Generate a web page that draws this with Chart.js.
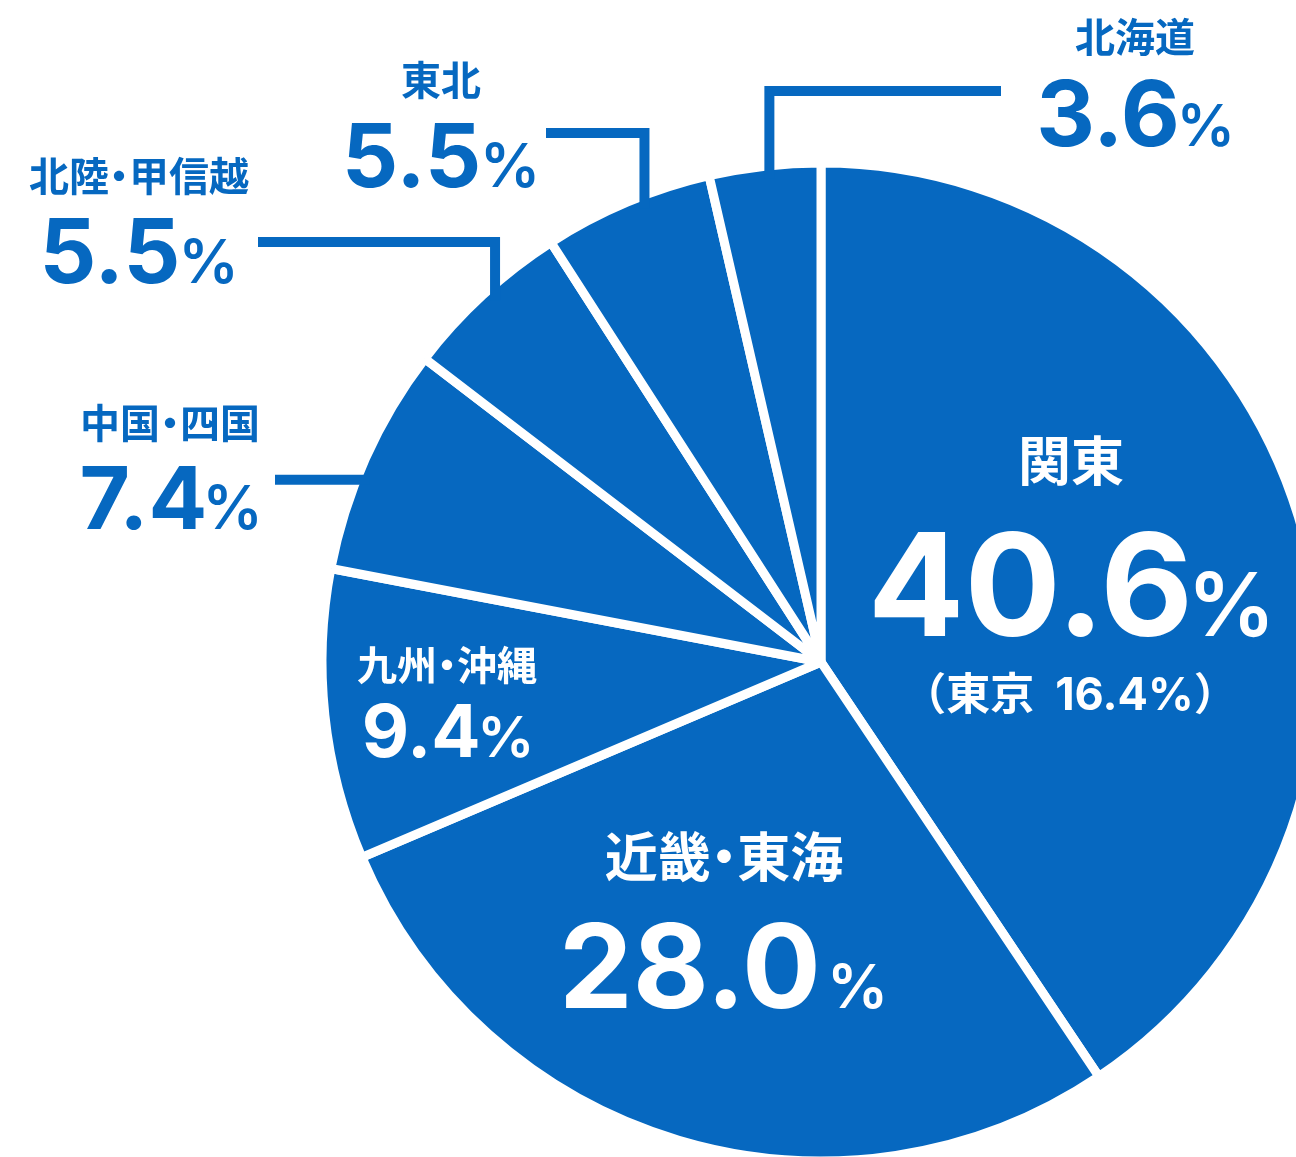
<!DOCTYPE html>
<html lang="ja">
<head>
<meta charset="utf-8">
<script src="https://cdn.jsdelivr.net/npm/chart.js@4.4.1/dist/chart.umd.min.js"></script>
<style>
  html, body { margin: 0; padding: 0; background: #fff; overflow: hidden; }
  #wrap { position: relative; width: 1296px; height: 1157px; overflow: hidden; }
  canvas { position: absolute; left: 0; top: 0; }
</style>
</head>
<body>
<div id="wrap"><canvas id="regionPie" width="1400" height="1200"></canvas></div>
<script>
// share by region (%), clockwise from 12 o'clock
const regions = ['関東', '近畿・東海', '九州・沖縄', '中国・四国', '北陸・甲信越', '東北', '北海道'];
const shares = [40.6, 28.0, 9.4, 7.4, 5.5, 5.5, 3.6];
const tokyoShare = 16.4;

const BLUE = '#0668c0';
const numberFont = 'Inter, "Liberation Sans", Arial, sans-serif';
const numWeight = 700;
const pctWeight = 600;
const cjkFont = '"Noto Sans CJK JP", "Noto Sans CJK SC", sans-serif';

// label placement, offsets from the pie centre
const labelLayout = [
  { dx: 250, nameY: -201, numY: -26, nameSize: 53, numSize: 143, pctSize: 88, sx: 1, gap: 8, inside: true },
  { dx: -97, nameY: 195, numY: 346, nameSize: 53, numSize: 117, pctSize: 61, sx: 1, gap: 16, inside: true },
  { dx: -374, nameY: 3, numY: 95, nameSize: 40, numSize: 73, pctSize: 57, sx: 1, gap: 4, inside: true },
  { dx: -651, nameY: -239, numY: -133, nameSize: 40, numSize: 87, pctSize: 60, sx: 1, gap: 4,
    leader: { f: 0.42, endX: -546 } },
  { dx: -682, nameY: -486, numY: -379, nameSize: 40, numSize: 89, pctSize: 60, sx: 1, gap: 7,
    leader: { f: 0.53, elbowY: -420, endX: -563 } },
  { dx: -380, nameY: -582, numY: -475, nameSize: 40, numSize: 88, pctSize: 60, sx: 1, gap: 7,
    leader: { f: 0.58, elbowY: -529, endX: -275 } },
  { dx: 314, nameY: -625, numY: -516, nameSize: 40, numSize: 91, pctSize: 58, sx: 1, gap: 6,
    leader: { f: 0.53, elbowY: -571, endX: 180 } }
];
const subLayout = { dx: 249, y: 48 };

function drawName(ctx, text, cx, cy, size, color) {
  ctx.font = `bold ${size}px ${cjkFont}`;
  ctx.fillStyle = color;
  ctx.textBaseline = 'middle';
  ctx.textAlign = 'left';
  const parts = text.split('・');
  const dotW = size * 0.5;
  const widths = parts.map(p => ctx.measureText(p).width);
  const total = widths.reduce((a, b) => a + b, 0) + dotW * (parts.length - 1);
  let x = cx - total / 2;
  parts.forEach((p, i) => {
    ctx.fillText(p, x, cy);
    x += widths[i];
    if (i < parts.length - 1) {
      ctx.textAlign = 'center';
      ctx.fillText('・', x + dotW / 2, cy);
      ctx.textAlign = 'left';
      x += dotW;
    }
  });
}

function drawValue(ctx, value, cx, baseY, lay, color) {
  const num = value.toFixed(1);
  ctx.fillStyle = color;
  ctx.textBaseline = 'alphabetic';
  ctx.textAlign = 'left';
  ctx.font = `${numWeight} ${lay.numSize}px ${numberFont}`;
  const m = ctx.measureText(num);
  ctx.font = `${pctWeight} ${lay.pctSize}px ${numberFont}`;
  const p = ctx.measureText('%');
  const numInk = (m.actualBoundingBoxLeft + m.actualBoundingBoxRight) * lay.sx;
  const pctInk = p.actualBoundingBoxLeft + p.actualBoundingBoxRight;
  const start = cx - (numInk + lay.gap + pctInk) / 2;
  ctx.save();
  ctx.translate(start + m.actualBoundingBoxLeft * lay.sx, baseY);
  ctx.scale(lay.sx, 1);
  ctx.font = `${numWeight} ${lay.numSize}px ${numberFont}`;
  ctx.fillText(num, 0, 0);
  ctx.restore();
  ctx.font = `${pctWeight} ${lay.pctSize}px ${numberFont}`;
  ctx.fillText('%', start + numInk + lay.gap + p.actualBoundingBoxLeft, baseY);
}

// mixed run, e.g. （東京 16.4%）
function drawRun(ctx, segs, cx, baseY, color) {
  ctx.fillStyle = color;
  ctx.textBaseline = 'alphabetic';
  ctx.textAlign = 'left';
  const widths = segs.map(s => {
    ctx.font = s.font;
    return ctx.measureText(s.text).width;
  });
  let x = cx - widths.reduce((a, b) => a + b, 0) / 2;
  segs.forEach((s, i) => {
    ctx.font = s.font;
    ctx.fillText(s.text, x, baseY);
    x += widths[i];
  });
}

const labelPlugin = {
  id: 'regionLabels',
  afterDatasetsDraw(chart) {
    const ctx = chart.ctx;
    const arcs = chart.getDatasetMeta(0).data;
    const cx = arcs[0].x, cy = arcs[0].y;
    const edge = arcs[0].outerRadius - chart.data.datasets[0].borderWidth / 2;

    ctx.save();
    labelLayout.forEach((lay, i) => {
      const color = lay.inside ? '#fff' : BLUE;
      if (lay.leader) {
        const a = arcs[i].startAngle + lay.leader.f * (arcs[i].endAngle - arcs[i].startAngle);
        const px = cx + (edge - 8) * Math.cos(a);
        const py = cy + (edge - 8) * Math.sin(a);
        ctx.strokeStyle = BLUE;
        ctx.lineWidth = 10;
        ctx.lineJoin = 'miter';
        ctx.lineCap = 'butt';
        ctx.beginPath();
        ctx.moveTo(px, py);
        if (lay.leader.elbowY !== undefined) {
          ctx.lineTo(px, cy + lay.leader.elbowY);
          ctx.lineTo(cx + lay.leader.endX, cy + lay.leader.elbowY);
        } else {
          ctx.lineTo(cx + lay.leader.endX, py);
        }
        ctx.stroke();
      }
      drawName(ctx, regions[i], cx + lay.dx, cy + lay.nameY, lay.nameSize, color);
      drawValue(ctx, shares[i], cx + lay.dx, cy + lay.numY, lay, color);
    });

    drawRun(ctx, [
      { text: '（東京', font: `bold 44px ${cjkFont}` },
      { text: '  ', font: `${numWeight} 44px ${numberFont}` },
      { text: tokyoShare.toFixed(1) + '%', font: `${numWeight} 45px ${numberFont}` },
      { text: '）', font: `bold 44px ${cjkFont}` }
    ], cx + subLayout.dx, cy + subLayout.y, '#fff');
    ctx.restore();
  }
};

new Chart(document.getElementById('regionPie').getContext('2d'), {
  type: 'pie',
  data: {
    labels: regions,
    datasets: [{
      data: shares,
      backgroundColor: BLUE,
      borderColor: '#fff',
      borderWidth: 9,
      hoverOffset: 0
    }]
  },
  options: {
    responsive: false,
    animation: false,
    events: [],
    radius: 499,
    layout: { padding: { left: 242, top: 124, right: 0, bottom: 0 } },
    plugins: { legend: { display: false }, tooltip: { enabled: false } }
  },
  plugins: [labelPlugin]
});
</script>
</body>
</html>
